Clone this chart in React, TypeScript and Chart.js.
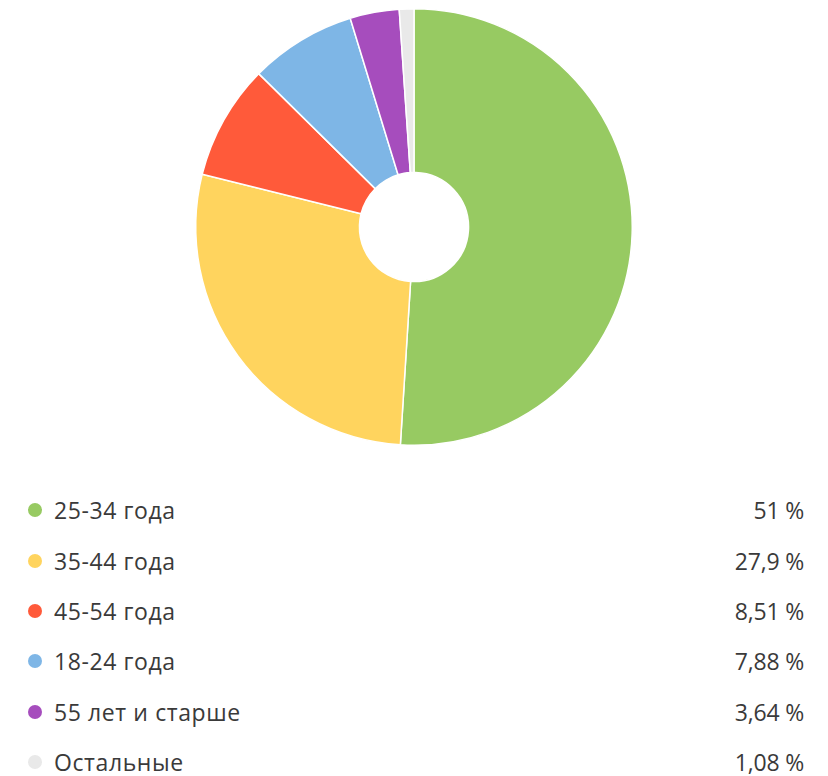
import React, { useEffect, useRef } from "react";
import { Chart, registerables } from "chart.js";

Chart.register(...registerables);

const labels = ["25-34 года", "35-44 года", "45-54 года", "18-24 года", "55 лет и старше", "Остальные"];
const values = [51, 27.9, 8.51, 7.88, 3.64, 1.08];
const valueLabels = ["51 %", "27,9 %", "8,51 %", "7,88 %", "3,64 %", "1,08 %"];
const colors = ["#97ca62", "#ffd45e", "#ff5a3a", "#7eb6e6", "#a64dbd", "#e9e9e9"];

export default function App() {
  const ref = useRef<HTMLCanvasElement | null>(null);
  useEffect(() => {
    if (!ref.current) return;
    const chart = new Chart(ref.current, {
      type: "doughnut",
      data: {
        labels,
        datasets: [
          {
            data: values,
            backgroundColor: colors,
            borderColor: "#ffffff",
            borderWidth: 1.5,
          },
        ],
      },
      options: {
        responsive: true,
        maintainAspectRatio: false,
        animation: false,
        cutout: "25%",
        layout: { padding: 0 },
        plugins: { legend: { display: false }, tooltip: { enabled: false } },
      },
    });
    return () => chart.destroy();
  }, []);

  return (
    <div style={{ width: 812, fontFamily: "'Open Sans', sans-serif", color: "#3a3a3a" }}>
      <div style={{ position: "relative", width: 812, height: 438 }}>
        <canvas ref={ref} />
      </div>
      <div style={{ marginTop: 39 }}>
        {labels.map((l, i) => (
          <div
            key={l}
            style={{
              height: 50.4,
              display: "flex",
              alignItems: "center",
              fontSize: 23,
            }}
          >
            <span
              style={{
                display: "inline-block",
                width: 14,
                height: 14,
                borderRadius: "50%",
                background: colors[i],
                marginLeft: 20,
                marginRight: 12,
              }}
            />
            <span style={{ flex: 1, letterSpacing: 0.6 }}>{l}</span>
            <span style={{ marginRight: 16, letterSpacing: -0.2 }}>{valueLabels[i]}</span>
          </div>
        ))}
      </div>
    </div>
  );
}
